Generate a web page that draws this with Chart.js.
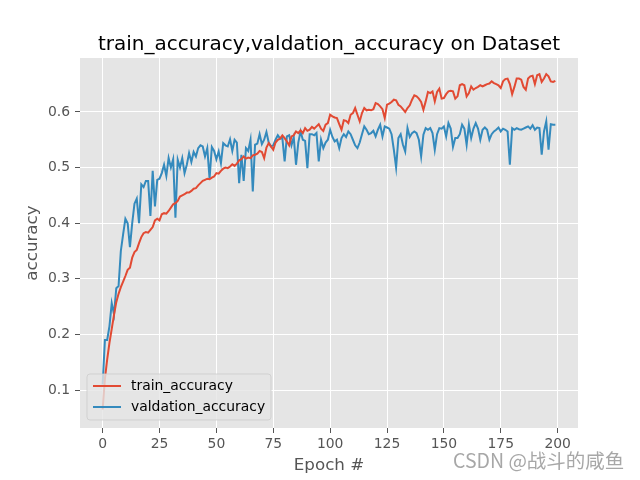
<!DOCTYPE html>
<html>
<head>
<meta charset="utf-8">
<script src="https://cdn.jsdelivr.net/npm/chart.js@4/dist/chart.umd.min.js"></script>
<style>
  html, body { margin: 0; padding: 0; background: #fff; }
  #wrap { width: 640px; height: 480px; }
</style>
</head>
<body>
<div id="wrap"><canvas id="c" width="640" height="480"></canvas></div>
<script>
// values, one per epoch (0..199)
const trainAcc = [
  0.065, 0.12, 0.155, 0.185, 0.21, 0.235, 0.258, 0.273, 0.285, 0.295,
  0.305, 0.316, 0.32, 0.338, 0.348, 0.352, 0.364, 0.375, 0.382, 0.384,
  0.383, 0.388, 0.393, 0.405, 0.408, 0.405, 0.416, 0.418, 0.417, 0.422,
  0.428, 0.434, 0.436, 0.44, 0.448, 0.45, 0.452, 0.455, 0.455, 0.458,
  0.462, 0.463, 0.468, 0.472, 0.476, 0.478, 0.48, 0.479, 0.482, 0.484,
  0.49, 0.489, 0.494, 0.498, 0.5, 0.499, 0.502, 0.506, 0.503, 0.507,
  0.513, 0.515, 0.52, 0.516, 0.518, 0.517, 0.522, 0.523, 0.525, 0.53,
  0.528, 0.517, 0.536, 0.544, 0.538, 0.532, 0.545, 0.55, 0.552, 0.558,
  0.553, 0.547, 0.54, 0.556, 0.558, 0.565, 0.562, 0.567, 0.562, 0.571,
  0.566, 0.568, 0.573, 0.57, 0.574, 0.578, 0.57, 0.566, 0.577, 0.58,
  0.595, 0.592, 0.59, 0.589, 0.578, 0.568, 0.585, 0.584, 0.58, 0.595,
  0.598, 0.607, 0.595, 0.583, 0.598, 0.607, 0.603, 0.604, 0.603, 0.605,
  0.616, 0.614, 0.61, 0.605, 0.589, 0.613, 0.615, 0.618, 0.622, 0.621,
  0.613, 0.61, 0.605, 0.6, 0.607, 0.612, 0.622, 0.63, 0.628, 0.624,
  0.618, 0.604, 0.619, 0.636, 0.634, 0.637, 0.619, 0.636, 0.642, 0.624,
  0.625, 0.632, 0.637, 0.638, 0.637, 0.624, 0.628, 0.648, 0.65, 0.648,
  0.628, 0.634, 0.646, 0.64, 0.643, 0.645, 0.648, 0.646, 0.648, 0.65,
  0.651, 0.655, 0.652, 0.65, 0.648, 0.643, 0.655, 0.659, 0.66, 0.65,
  0.632, 0.645, 0.66, 0.66, 0.658, 0.645, 0.64, 0.66, 0.664, 0.665,
  0.65, 0.666, 0.668, 0.654, 0.66, 0.668, 0.664, 0.655, 0.654, 0.656
];
const valAcc = [
  0.11, 0.19, 0.19, 0.215, 0.256, 0.236, 0.283, 0.287, 0.35, 0.38,
  0.408, 0.4, 0.357, 0.4, 0.435, 0.444, 0.4, 0.47, 0.465, 0.476,
  0.476, 0.413, 0.494, 0.43, 0.478, 0.48, 0.49, 0.505, 0.485, 0.517,
  0.5, 0.515, 0.41, 0.514, 0.5, 0.517, 0.49, 0.505, 0.526, 0.51,
  0.528, 0.52, 0.535, 0.54, 0.538, 0.52, 0.535, 0.48, 0.537, 0.53,
  0.515, 0.529, 0.508, 0.544, 0.54, 0.538, 0.551, 0.53, 0.55, 0.545,
  0.472, 0.523, 0.476, 0.535, 0.53, 0.55, 0.457, 0.541, 0.543, 0.56,
  0.542, 0.55, 0.564, 0.545, 0.538, 0.54, 0.55, 0.558, 0.552, 0.553,
  0.511, 0.556, 0.558, 0.54, 0.555, 0.505, 0.545, 0.565, 0.55, 0.548,
  0.499, 0.56, 0.56, 0.558, 0.562, 0.511, 0.55, 0.535, 0.545, 0.55,
  0.568, 0.555, 0.547, 0.55, 0.535, 0.553, 0.56, 0.555, 0.565, 0.56,
  0.55, 0.54, 0.535, 0.545, 0.56, 0.574, 0.568, 0.56, 0.562, 0.566,
  0.556, 0.568, 0.577, 0.556, 0.574, 0.572, 0.57, 0.56, 0.532, 0.5,
  0.553, 0.56, 0.541, 0.529, 0.571, 0.555, 0.562, 0.565, 0.562, 0.55,
  0.52, 0.559, 0.571, 0.568, 0.571, 0.562, 0.532, 0.56, 0.571, 0.57,
  0.574, 0.556, 0.58, 0.57, 0.537, 0.553, 0.553, 0.56, 0.577, 0.57,
  0.541, 0.577, 0.553, 0.57, 0.58, 0.57, 0.55, 0.568, 0.572, 0.568,
  0.55, 0.56, 0.565, 0.568, 0.572, 0.565, 0.57, 0.568, 0.565, 0.505,
  0.571, 0.568, 0.571, 0.569, 0.568, 0.57, 0.572, 0.574, 0.57, 0.576,
  0.568, 0.572, 0.571, 0.523, 0.565, 0.583, 0.532, 0.578, 0.577, 0.577
];
const epochs = trainAcc.map((v, i) => i);
const xTicks = [0, 25, 50, 75, 100, 125, 150, 175, 200];
const yTicks = [0.1, 0.2, 0.3, 0.4, 0.5, 0.6];
const seriesNames = ["train_accuracy", "valdation_accuracy"];
const seriesColors = ["#E24A33", "#348ABD"];
const chartTitle = "train_accuracy,valdation_accuracy on Dataset";
const watermark = "CSDN @战斗的咸鱼";

const FONT = "'DejaVu Sans', sans-serif";

// gray axes background like the ggplot style, title centred over the axes
const bgPlugin = {
  id: "bg",
  beforeDraw(chart) {
    const { ctx, chartArea: a } = chart;
    ctx.save();
    ctx.fillStyle = "#fff";
    ctx.fillRect(0, 0, chart.width, chart.height);
    ctx.fillStyle = "#E5E5E5";
    ctx.fillRect(a.left, a.top, a.right - a.left, a.bottom - a.top);
    ctx.font = "20px " + FONT;
    ctx.fillStyle = "#000";
    ctx.textAlign = "center";
    ctx.textBaseline = "alphabetic";
    ctx.fillText(chartTitle, (a.left + a.right) / 2, a.top - 8.3);
    ctx.restore();
  }
};

// legend box in lower left of the axes, plus the watermark
const legendPlugin = {
  id: "boxLegend",
  afterDatasetsDraw(chart) {
    const { ctx, chartArea: a } = chart;
    const x0 = a.left + 7, y1 = a.bottom - 8;
    const w = 184, h = 46, y0 = y1 - h;
    ctx.save();
    ctx.beginPath();
    ctx.roundRect(x0, y0, w, h, 3);
    ctx.fillStyle = "rgba(229,229,229,0.8)";
    ctx.fill();
    ctx.strokeStyle = "rgba(204,204,204,0.8)";
    ctx.lineWidth = 1;
    ctx.stroke();
    ctx.font = "13.9px " + FONT;
    ctx.textBaseline = "middle";
    seriesNames.forEach((name, i) => {
      const yy = y0 + 12 + i * 21;
      ctx.strokeStyle = seriesColors[i];
      ctx.lineWidth = 2;
      ctx.beginPath();
      ctx.moveTo(x0 + 6, yy);
      ctx.lineTo(x0 + 34, yy);
      ctx.stroke();
      ctx.fillStyle = "#000";
      ctx.fillText(name, x0 + 44, yy);
    });
    ctx.restore();
  },
  afterDraw(chart) {
    const ctx = chart.ctx;
    ctx.save();
    ctx.font = "19.5px 'Noto Sans CJK SC', sans-serif";
    ctx.textBaseline = "middle";
    ctx.lineWidth = 3;
    ctx.strokeStyle = "rgba(255,255,255,0.9)";
    ctx.strokeText(watermark, 453, 461);
    ctx.fillStyle = "rgba(130,130,130,0.7)";
    ctx.fillText(watermark, 453, 461);
    ctx.restore();
  }
};

new Chart(document.getElementById("c"), {
  type: "line",
  data: {
    datasets: [
      {
        label: seriesNames[0],
        data: epochs.map((e, i) => ({ x: e, y: trainAcc[i] })),
        borderColor: seriesColors[0],
        borderWidth: 2,
        pointRadius: 0,
        tension: 0,
        fill: false
      },
      {
        label: seriesNames[1],
        data: epochs.map((e, i) => ({ x: e, y: valAcc[i] })),
        borderColor: seriesColors[1],
        borderWidth: 2,
        pointRadius: 0,
        tension: 0,
        fill: false
      }
    ]
  },
  options: {
    responsive: false,
    animation: false,
    devicePixelRatio: 1,
    layout: { padding: { left: 0, right: 62, top: 58, bottom: 0 } },
    plugins: {
      legend: { display: false },
      tooltip: { enabled: false },
      title: { display: false }
    },
    scales: {
      x: {
        type: "linear",
        min: -9.95,
        max: 208.95,
        afterBuildTicks: s => { s.ticks = xTicks.map(v => ({ value: v })); },
        afterFit: s => { s.height = 52; },
        border: { display: false },
        grid: { color: "#fff", lineWidth: 1, tickColor: "#555", tickLength: 5 },
        ticks: {
          color: "#555", autoSkip: false, maxRotation: 0, padding: 3,
          font: { family: FONT, size: 13.9 }
        },
        title: {
          display: true, text: "Epoch #", color: "#555",
          font: { family: FONT, size: 16.7 }, padding: { top: 0, bottom: 4 }
        }
      },
      y: {
        min: 0.0317,
        max: 0.697,
        afterBuildTicks: s => { s.ticks = yTicks.map(v => ({ value: v })); },
        afterFit: s => { s.width = 80; },
        border: { display: false },
        grid: { color: "#fff", lineWidth: 1, tickColor: "#555", tickLength: 5 },
        ticks: {
          color: "#555", padding: 5,
          font: { family: FONT, size: 13.9 },
          callback: v => v.toFixed(1)
        },
        title: {
          display: true, text: "accuracy", color: "#555",
          font: { family: FONT, size: 16.7 }, padding: { top: 23, bottom: 0 }
        }
      }
    }
  },
  plugins: [bgPlugin, legendPlugin]
});
</script>
</body>
</html>
